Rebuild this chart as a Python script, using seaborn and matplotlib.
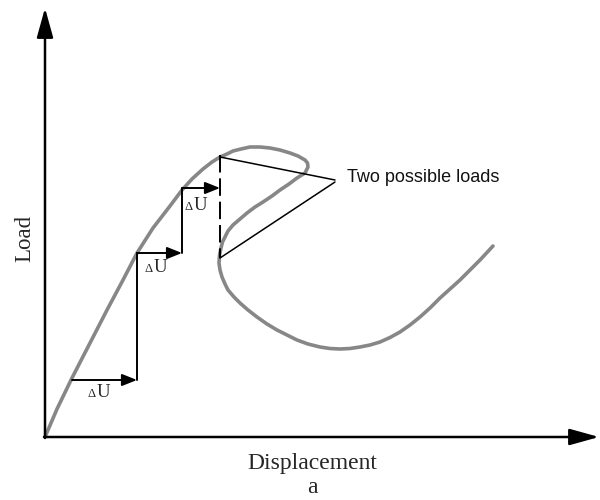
import matplotlib
matplotlib.use("Agg")
import matplotlib.pyplot as plt
import seaborn as sns
import pandas as pd

sns.set_style("white")

# Load-displacement curve (schematic) (pixel-like units, y downward)
curve_x = [45, 57, 72, 90, 107, 123, 137, 153, 170, 182, 192, 203, 212, 220, 227, 233,
           241, 250, 260, 270, 280, 290, 298, 305, 307.5, 308, 305, 297, 289, 280,
           272, 263, 255, 247, 240, 233, 228, 225, 222.5, 221, 219.5, 219, 220, 222,
           225, 228, 234, 240, 248, 257, 267, 277, 287, 297, 308, 320, 330, 340,
           350, 360, 370, 380, 390, 400, 410, 420, 430, 440, 450, 460, 470, 480, 493]
curve_y = [437, 409, 378, 343, 310, 280, 253, 228, 206, 190, 179, 169, 162, 157, 154, 151,
           149, 147, 147, 148, 150, 153, 156, 160, 163, 167, 173, 178, 184, 190,
           196, 202, 207, 213, 219, 225, 231, 237, 242, 248, 255, 263, 270, 277,
           284, 290, 297, 303, 310, 317, 324, 330, 335, 340, 344, 347, 348.5, 349,
           348.5, 347, 345, 342, 337.5, 332, 325, 317, 308, 298, 289, 280, 270, 260, 246]

# Displacement increments (staircase)
step_x0 = [72, 137, 182]
step_x1 = [137, 182, 220]
step_y = [380, 253, 188]
du_labels = ["U", "U", "U"]
du_x = [96, 153, 193]
du_y = [397, 272, 210]

# Two possible loads
peak_load = (220, 155)
low_load = (220, 258)
note_point = (335, 181)
note_text = "Two possible loads"

x_label = "Displacement"
sub_label = "a"
y_label = "Load"

fig = plt.figure(figsize=(6, 5), dpi=100)
ax = fig.add_axes([0, 0, 1, 1])
ax.set_xlim(0, 600)
ax.set_ylim(500, 0)
ax.axis("off")

df = pd.DataFrame({"x": curve_x, "y": curve_y})
sns.lineplot(data=df, x="x", y="y", sort=False, estimator=None, color="#878787",
             lw=2.6, ax=ax, solid_joinstyle="round", solid_capstyle="round")

# axes arrows
big = dict(arrowstyle="-|>,head_length=18,head_width=5", mutation_scale=1,
           color="black", lw=1.8, shrinkA=0, shrinkB=0)
ax.annotate("", xy=(45, 8), xytext=(45, 438), arrowprops=big)
ax.annotate("", xy=(599, 437), xytext=(44, 437), arrowprops=big)

small = dict(arrowstyle="-|>,head_length=9,head_width=3.6", mutation_scale=1,
             color="black", lw=1.4, shrinkA=0, shrinkB=0)
for i in range(3):
    ax.annotate("", xy=(step_x1[i], step_y[i]), xytext=(step_x0[i], step_y[i]),
                arrowprops=small)
    if i < 2:
        ax.plot([step_x1[i], step_x1[i]], [step_y[i], step_y[i + 1]], color="black", lw=1.4)
    ax.text(du_x[i], du_y[i], "\u0394", family="Liberation Serif", fontsize=9,
            ha="right", va="baseline")
    ax.text(du_x[i] + 0.5, du_y[i], du_labels[i], family="Liberation Serif", fontsize=13.5,
            ha="left", va="baseline")

# dashed vertical at the limit point
ax.plot([peak_load[0], low_load[0]], [peak_load[1], low_load[1]], color="black",
        lw=1.4, ls=(0, (9, 3)))

# leader lines
ax.plot([peak_load[0], note_point[0]], [peak_load[1] + 2, note_point[1] - 1], color="black", lw=1.1)
ax.plot([low_load[0], note_point[0]], [low_load[1], note_point[1] + 1], color="black", lw=1.1)
ax.text(347, 177, note_text, family="Liberation Sans", fontsize=13, ha="left", va="center",
        color="#111111")

ax.text(312, 469, x_label, family="Liberation Serif", fontsize=17, ha="center", va="baseline")
ax.text(312, 493, sub_label, family="Liberation Serif", fontsize=17, ha="center", va="baseline")
ax.text(25, 238, y_label, family="Liberation Serif", fontsize=16.5, ha="center", va="center",
        rotation=90)

fig.savefig("out.png", dpi=100)
